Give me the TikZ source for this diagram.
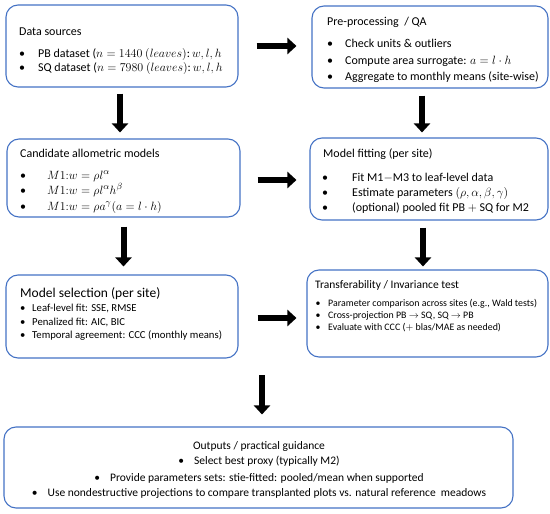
\documentclass[tikz,border=0pt]{standalone}
\usepackage{fontspec}
\setmainfont{Carlito}
\usetikzlibrary{arrows.meta}
\DeclareMathSizes{12}{13}{9}{7}

\definecolor{boxblue}{HTML}{4472C4}
\newcommand{\blt}[1]{\makebox[#1][l]{\textbullet}}

\tikzset{
  box/.style={draw=boxblue, line width=1.1pt, rounded corners=12pt, inner sep=0pt},
  txt/.style={anchor=base west, inner sep=0pt, font=\fontsize{12}{14}\selectfont},
  small/.style={anchor=base west, inner sep=0pt, font=\fontsize{9.9}{11}\selectfont},
  mid/.style={anchor=base, inner sep=0pt, font=\fontsize{11.5}{13}\selectfont},
  fatarrow/.style={line width=6pt, -{Triangle[length=9pt, width=16pt]}},
}

\begin{document}
\begin{tikzpicture}[x=1pt, y=-1pt]

     \useasboundingbox (0,0) rectangle (550,514);

     % boxes
     \node[box, minimum width=232pt, minimum height=82pt] (src)   at (122,46)    {};
     \node[box, minimum width=236pt, minimum height=82pt] (prep)  at (430,47)    {};
     \node[box, minimum width=233pt, minimum height=78pt] (cand)  at (123.5,178) {};
     \node[box, minimum width=238pt, minimum height=82pt] (fit)   at (429,179)   {};
     \node[box, minimum width=232pt, minimum height=83pt] (sel)   at (122,316.5) {};
     \node[box, minimum width=241pt, minimum height=87pt] (trans) at (427.5,313.5) {};
     \node[box, minimum width=509pt, minimum height=81pt] (out)   at (258.5,467.5) {};

     % data sources
     \node[txt] (srcT) at (19,35) {Data sources};
     \node[txt] (srcA) at (19,57) {\blt{19pt}PB dataset ($n = 1440$ $(leaves)$:$\,w, l, h$};
     \node[txt] (srcB) at (19,71) {\blt{19pt}SQ dataset ($n = 7980$ $(leaves)$:$\,w, l, h$};

     % pre-processing
     \node[txt] (prepT) at (327,26) {Pre-processing \ / QA};
     \node[txt] (prepA) at (327,47) {\blt{18pt}Check units \& outliers};
     \node[txt] (prepB) at (327,64) {\blt{18pt}Compute area surrogate: $a = l \cdot h$};
     \node[txt] (prepC) at (327,80) {\blt{18pt}Aggregate to monthly means (site-wise)};

     % candidate models
     \node[txt] (candT) at (20,157) {Candidate allometric models};
     \node[txt] (candA) at (20,179) {\blt{27pt}$M1{:}w = \rho l^{\alpha}$};
     \node[txt] (candB) at (20,194) {\blt{27pt}$M1{:}w = \rho l^{\alpha} h^{\beta}$};
     \node[txt] (candC) at (20,210) {\blt{27pt}$M1{:}w = \rho a^{\gamma} (a = l \cdot h)$};

     % model fitting
     \node[txt] (fitT) at (323,157) {Model fitting (per site)};
     \node[txt] (fitA) at (322,181) {\blt{30pt}Fit M1$-$M3 to leaf-level data};
     \node[txt] (fitB) at (322,196) {\blt{30pt}Estimate parameters $(\rho, \alpha, \beta, \gamma)$};
     \node[txt] (fitC) at (322,211) {\blt{30pt}(optional) pooled fit PB $+$ SQ for M2};

     % model selection
     \node[txt, font=\fontsize{13.5}{15}\selectfont] (selT) at (20,297) {Model selection (per site)};
     \node[txt, font=\fontsize{10.7}{12}\selectfont] (selA) at (20,311) {\blt{12pt}Leaf-level fit: SSE, RMSE};
     \node[txt, font=\fontsize{10.7}{12}\selectfont] (selB) at (20,325) {\blt{12pt}Penalized fit: AIC, BIC};
     \node[txt, font=\fontsize{10.7}{12}\selectfont] (selC) at (20,338) {\blt{12pt}Temporal agreement: CCC (monthly means)};

     % transferability
     \node[txt, font=\fontsize{11.5}{13}\selectfont] (transT) at (315,288) {Transferability / Invariance test};
     \node[small] (transA) at (315.5,306) {\blt{12.5pt}Parameter comparison across sites (e.g., Wald tests)};
     \node[small] (transB) at (315.5,318) {\blt{12.5pt}Cross-projection PB $\rightarrow$ SQ, SQ $\rightarrow$ PB};
     \node[small] (transC) at (315.5,330) {\blt{12.5pt}Evaluate with CCC ($+$ blas/MAE as needed)};

     % outputs
     \node[mid] (outT) at (259,449) {Outputs / practical guidance};
     \node[mid] (outA) at (259,464) {\textbullet\hspace{10pt}Select best proxy (typically M2)};
     \node[mid] (outB) at (259,481) {\textbullet\hspace{10pt}Provide parameters sets: stie-fitted: pooled/mean when supported};
     \node[mid] (outC) at (259,496) {\textbullet\hspace{10pt}Use nondestructive projections to compare transplanted plots vs. natural reference \ meadows};

     % flow
     \coordinate (split) at (262,375);
     \draw[fatarrow, shorten <=18pt, shorten >=15pt] (src.east) -- (src.east -| prep.west);
     \draw[fatarrow, shorten <=17pt, shorten >=13pt] ([yshift=-2pt]cand.east) -- ([yshift=-2pt]cand.east -| fit.west);
     \draw[fatarrow, shorten <=19pt, shorten >=10pt] ([yshift=-1.5pt]sel.east) -- ([yshift=-1.5pt]sel.east -| trans.west);
     \draw[fatarrow, shorten <=6pt, shorten >=6pt] ([xshift=-2pt]src.south) -- ([xshift=-2pt]src.south |- cand.north);
     \draw[fatarrow, shorten <=9pt, shorten >=8pt] (cand.south) -- (cand.south |- sel.north);
     \draw[fatarrow, shorten <=7pt, shorten >=5pt] ([xshift=-8pt]prep.south) -- ([xshift=-8pt]prep.south |- fit.north);
     \draw[fatarrow, shorten <=7pt, shorten >=3pt] ([xshift=-6pt]fit.south) -- ([xshift=-6pt]fit.south |- trans.north);
     \draw[fatarrow, shorten >=12pt] (split) -- (split |- out.north);

\end{tikzpicture}
\end{document}
